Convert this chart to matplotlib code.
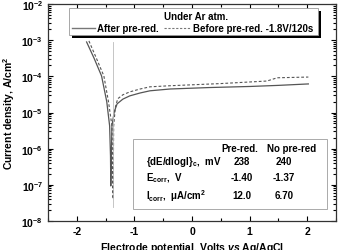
import numpy as np
import matplotlib
matplotlib.use('Agg')
import matplotlib.pyplot as plt
from matplotlib.patches import Rectangle
from matplotlib.ticker import LogLocator, MultipleLocator, NullFormatter, FuncFormatter

plt.rcParams['font.family'] = ['Liberation Sans', 'DejaVu Sans']
plt.rcParams['font.weight'] = 'bold'
plt.rcParams['mathtext.fontset'] = 'custom'
plt.rcParams['mathtext.rm'] = 'Liberation Sans:bold'
plt.rcParams['mathtext.bf'] = 'Liberation Sans:bold'
plt.rcParams['mathtext.it'] = 'Liberation Sans:bold:italic'
plt.rcParams['mathtext.default'] = 'bf'
plt.rcParams['axes.unicode_minus'] = False

# polarization curves (E in V, log10 i in A/cm2)
after_E = [-1.83, -1.70, -1.57, -1.48, -1.43, -1.415, -1.41, -1.40, -1.39, -1.35, -1.30, -1.20, -1.08, -0.90, -0.73, -0.38, 0.3, 1.01, 1.5, 2.02]
after_logi = [-3.05, -3.50, -3.99, -4.70, -5.37, -6.20, -7.03, -6.20, -5.37, -4.98, -4.76, -4.63, -4.54, -4.46, -4.40, -4.35, -4.31, -4.28, -4.25, -4.21]
before_E = [-1.79, -1.66, -1.53, -1.45, -1.39, -1.38, -1.37, -1.365, -1.36, -1.33, -1.29, -1.20, -1.08, -0.90, -0.73, -0.38, 0.5, 1.30, 1.48, 2.02]
before_logi = [-3.02, -3.50, -3.99, -4.70, -5.37, -6.40, -7.39, -6.40, -5.37, -4.85, -4.62, -4.51, -4.43, -4.35, -4.29, -4.26, -4.20, -4.13, -4.04, -4.02]
ecorr_line = -1.37

legend_title = 'Under Ar atm.'
label_after = 'After pre-red.'
label_before = 'Before pre-red. -1.8V/120s'

col_heads = ['Pre-red.', 'No pre-red']
row_labels = [r'{dE/dlogI}$_{\rm c}$,  mV', r'E$_{\rm corr}$,  V', r'I$_{\rm corr}$,  $\mu$A/cm$^2$']
col_pre = ['238', '-1.40', '12.0']
col_nopre = ['240', '-1.37', '6.70']

fig = plt.figure(figsize=(3.41, 2.51), dpi=100)
ax = fig.add_axes([48/341, 1 - 222/251, 288/341, 217/251])

ax.plot(after_E, 10**np.array(after_logi), color='#555555', lw=0.9, ls='-')
ax.plot(before_E, 10**np.array(before_logi), color='#555555', lw=0.8, ls=(0, (2.5, 1.8)))
ax.plot([ecorr_line, ecorr_line], [10**-3.05, 10**-7.6], color='#bbbbbb', lw=0.6)

ax.set_yscale('log')
ax.set_xlim(-2.5, 2.5)
ax.set_ylim(1e-8, 1e-2)
ax.xaxis.set_major_locator(MultipleLocator(1))
ax.xaxis.set_minor_locator(MultipleLocator(0.5))
ax.xaxis.set_major_formatter(FuncFormatter(lambda v, p: '%d' % round(v)))
ax.yaxis.set_major_locator(LogLocator(base=10, numticks=10))
ax.yaxis.set_minor_locator(LogLocator(base=10, subs=np.arange(2, 10), numticks=10))
ax.yaxis.set_major_formatter(FuncFormatter(lambda v, p: r'$\mathbf{10^{%d}}$' % round(np.log10(v))))
ax.yaxis.set_minor_formatter(NullFormatter())
ax.tick_params(which='both', direction='in', top=True, right=True, labelsize=7.5, width=0.8)
ax.tick_params(which='major', length=3.5)
ax.tick_params(which='minor', length=2)
for lab in ax.get_xticklabels() + ax.get_yticklabels():
    lab.set_fontweight('bold')
for s in ax.spines.values():
    s.set_linewidth(0.9)
    s.set_color('#333333')

ax.set_ylabel('Current density, A/cm$^2$', fontsize=7.5, fontweight='bold', labelpad=3)
fig.text(192/341, 1 - 248/251, r'Electrode potential, Volts $\it{vs}$ Ag/AgCl',
         ha='center', va='center', fontsize=7.5, fontweight='bold')

# legend box with drop shadow
def px(x, y):
    return ((x - 48) / 288, (222 - y) / 217)

x0, y0 = px(69, 36)
x1, y1 = px(318, 9)
ax.add_patch(Rectangle((x0 + 3/288, y0 - 3/217), x1 - x0, y1 - y0, transform=ax.transAxes,
                       facecolor='black', edgecolor='none', zorder=5))
ax.add_patch(Rectangle((x0, y0), x1 - x0, y1 - y0, transform=ax.transAxes,
                       facecolor='white', edgecolor='#999999', lw=0.6, zorder=6))
tx, ty = px(196, 17)
ax.text(tx, ty, legend_title, transform=ax.transAxes, ha='center', va='center',
        fontsize=7, fontweight='bold', zorder=7)
lx0, ly = px(72, 29)
lx1, _ = px(95, 29)
ax.plot([lx0, lx1], [ly, ly], transform=ax.transAxes, color='#777777', lw=1.0, zorder=7)
ax.text(px(97, 29)[0], ly, label_after, transform=ax.transAxes, ha='left', va='center',
        fontsize=7, fontweight='bold', zorder=7)
dx0, _ = px(164, 29)
dx1, _ = px(191, 29)
ax.plot([dx0, dx1], [ly, ly], transform=ax.transAxes, color='#777777', lw=0.8, ls=(0, (2, 1.5)), zorder=7)
ax.text(px(193, 29)[0], ly, label_before, transform=ax.transAxes, ha='left', va='center',
        fontsize=7, fontweight='bold', zorder=7)

# table box
bx0, by0 = px(133, 210)
bx1, by1 = px(327, 140)
ax.add_patch(Rectangle((bx0, by0), bx1 - bx0, by1 - by0, transform=ax.transAxes,
                       facecolor='white', edgecolor='#aaaaaa', lw=0.7, zorder=6))
hy = px(0, 149)[1]
ax.text(px(240, 0)[0], hy, col_heads[0], transform=ax.transAxes, ha='center', va='center',
        fontsize=7, fontweight='bold', zorder=7)
ax.text(px(292, 0)[0], hy, col_heads[1], transform=ax.transAxes, ha='center', va='center',
        fontsize=7, fontweight='bold', zorder=7)
row_y = [162, 178, 196]
for i in range(3):
    yy = px(0, row_y[i])[1]
    ax.text(px(146, 0)[0], yy, row_labels[i], transform=ax.transAxes, ha='left', va='center',
            fontsize=7, fontweight='bold', zorder=7)
    ax.text(px(242, 0)[0], yy, col_pre[i], transform=ax.transAxes, ha='center', va='center',
            fontsize=7, fontweight='bold', zorder=7)
    ax.text(px(284, 0)[0], yy, col_nopre[i], transform=ax.transAxes, ha='center', va='center',
            fontsize=7, fontweight='bold', zorder=7)

fig.savefig('out.png', dpi=100)
